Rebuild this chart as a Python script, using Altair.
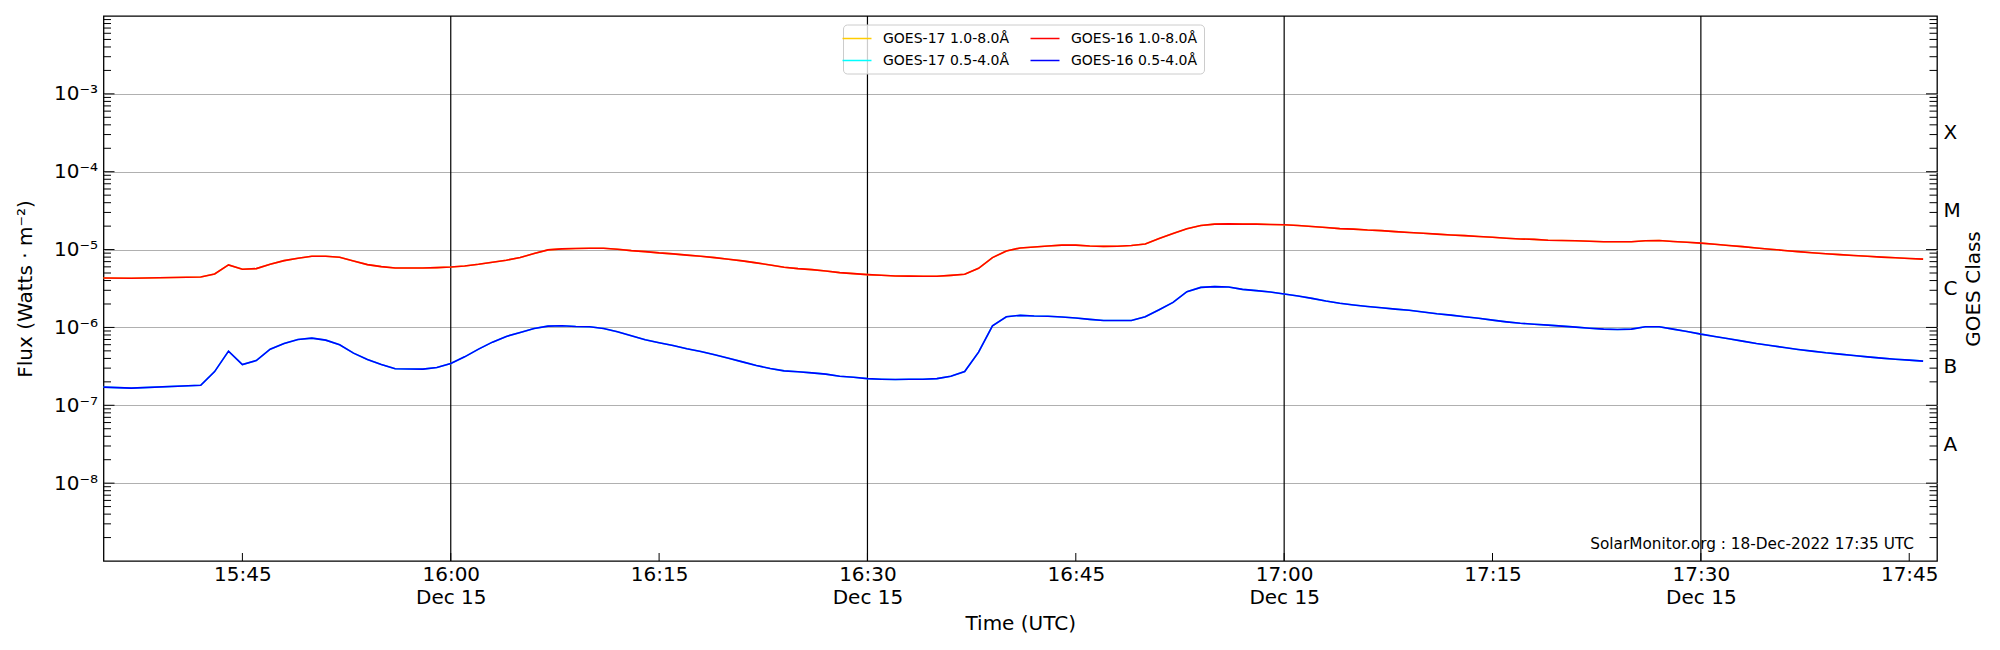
import json
import altair as alt
import pandas as pd

# ---------------- data ----------------
# minutes after 2022-12-15 15:35 UTC (1-minute cadence, gap 15:37-15:42)
minute_offsets = [0, 2] + list(range(7, 132))

goes16_long = [
    4.31e-6, 4.28e-6,
    4.45e-6, 4.86e-6, 6.35e-6, 5.58e-6, 5.69e-6, 6.47e-6, 7.21e-6, 7.73e-6, 8.20e-6, 8.20e-6,
    7.96e-6, 7.15e-6, 6.41e-6, 6.04e-6, 5.81e-6, 5.81e-6, 5.79e-6, 5.87e-6, 5.98e-6, 6.16e-6,
    6.47e-6, 6.87e-6, 7.29e-6, 7.89e-6, 8.88e-6, 9.90e-6, 1.02e-5, 1.03e-5, 1.04e-5, 1.04e-5,
    1.01e-5, 9.70e-6, 9.42e-6, 9.06e-6, 8.80e-6, 8.49e-6, 8.20e-6, 7.88e-6, 7.51e-6, 7.15e-6,
    6.74e-6, 6.35e-6, 5.93e-6, 5.69e-6, 5.52e-6, 5.31e-6, 5.06e-6, 4.91e-6, 4.77e-6, 4.67e-6,
    4.58e-6, 4.56e-6, 4.54e-6, 4.54e-6, 4.66e-6, 4.81e-6, 5.75e-6, 7.88e-6, 9.60e-6, 1.05e-5,
    1.08e-5, 1.11e-5, 1.14e-5, 1.14e-5, 1.11e-5, 1.10e-5, 1.105e-5, 1.13e-5, 1.18e-5, 1.39e-5,
    1.61e-5, 1.85e-5, 2.04e-5, 2.12e-5, 2.14e-5, 2.12e-5, 2.12e-5, 2.10e-5, 2.08e-5, 2.04e-5,
    1.98e-5, 1.92e-5, 1.86e-5, 1.83e-5, 1.78e-5, 1.75e-5, 1.70e-5, 1.66e-5, 1.62e-5, 1.58e-5,
    1.54e-5, 1.51e-5, 1.47e-5, 1.44e-5, 1.40e-5, 1.37e-5, 1.35e-5, 1.32e-5, 1.31e-5, 1.30e-5,
    1.28e-5, 1.26e-5, 1.26e-5, 1.26e-5, 1.30e-5, 1.31e-5, 1.27e-5, 1.24e-5, 1.21e-5, 1.17e-5,
    1.13e-5, 1.09e-5, 1.05e-5, 1.01e-5, 9.75e-6, 9.40e-6, 9.10e-6, 8.84e-6, 8.62e-6, 8.41e-6,
    8.20e-6, 8.00e-6, 7.85e-6, 7.69e-6, 7.54e-6,
]

goes16_short = [
    1.71e-7, 1.66e-7,
    1.81e-7, 2.71e-7, 4.96e-7, 3.34e-7, 3.76e-7, 5.26e-7, 6.22e-7, 7.00e-7, 7.29e-7, 6.87e-7,
    5.98e-7, 4.68e-7, 3.87e-7, 3.34e-7, 2.94e-7, 2.92e-7, 2.91e-7, 3.06e-7, 3.44e-7, 4.19e-7,
    5.26e-7, 6.47e-7, 7.66e-7, 8.63e-7, 9.70e-7, 1.04e-6, 1.05e-6, 1.03e-6, 1.02e-6, 9.70e-7,
    8.79e-7, 7.81e-7, 6.93e-7, 6.35e-7, 5.86e-7, 5.31e-7, 4.91e-7, 4.45e-7, 4.03e-7, 3.61e-7,
    3.24e-7, 2.97e-7, 2.77e-7, 2.69e-7, 2.61e-7, 2.51e-7, 2.36e-7, 2.29e-7, 2.20e-7, 2.16e-7,
    2.14e-7, 2.16e-7, 2.16e-7, 2.20e-7, 2.36e-7, 2.71e-7, 4.81e-7, 1.05e-6, 1.37e-6, 1.43e-6,
    1.40e-6, 1.39e-6, 1.36e-6, 1.32e-6, 1.27e-6, 1.23e-6, 1.23e-6, 1.23e-6, 1.37e-6, 1.69e-6,
    2.10e-6, 2.88e-6, 3.27e-6, 3.34e-6, 3.30e-6, 3.08e-6, 2.97e-6, 2.85e-6, 2.69e-6, 2.53e-6,
    2.36e-6, 2.18e-6, 2.04e-6, 1.94e-6, 1.86e-6, 1.79e-6, 1.72e-6, 1.66e-6, 1.58e-6, 1.50e-6,
    1.44e-6, 1.37e-6, 1.31e-6, 1.24e-6, 1.18e-6, 1.13e-6, 1.10e-6, 1.07e-6, 1.04e-6, 1.01e-6,
    9.76e-7, 9.50e-7, 9.40e-7, 9.50e-7, 1.02e-6, 1.02e-6, 9.50e-7, 8.88e-7, 8.20e-7, 7.66e-7,
    7.15e-7, 6.67e-7, 6.22e-7, 5.86e-7, 5.52e-7, 5.21e-7, 4.96e-7, 4.72e-7, 4.54e-7, 4.36e-7,
    4.19e-7, 4.03e-7, 3.91e-7, 3.80e-7, 3.69e-7,
]

# GOES-17 traces are drawn directly beneath the GOES-16 ones (indistinguishable in the picture)
goes17_long = list(goes16_long)
goes17_short = list(goes16_short)

# legend order (column-major): column 1 = GOES-17, column 2 = GOES-16
series_names = ["GOES-17 1.0-8.0Å", "GOES-17 0.5-4.0Å", "GOES-16 1.0-8.0Å", "GOES-16 0.5-4.0Å"]
series_colors = ["#ffcc00", "#00ffff", "#ff0000", "#0000ff"]

x_tick_times = ["15:45", "16:00", "16:15", "16:30", "16:45", "17:00", "17:15", "17:30", "17:45"]
date_tick_times = ["16:00", "16:30", "17:00", "17:30"]
date_label = "Dec 15"
x_domain_times = ["15:35", "17:47"]

decade_values = [1e-8, 1e-7, 1e-6, 1e-5, 1e-4, 1e-3]
decade_labels = ["10⁻⁸", "10⁻⁷", "10⁻⁶", "10⁻⁵", "10⁻⁴", "10⁻³"]
minor_values = [m * 10.0 ** k for k in range(-9, -2) for m in range(2, 10)]

class_letters = ["A", "B", "C", "M", "X"]
class_values = [10 ** -7.5, 10 ** -6.5, 10 ** -5.5, 10 ** -4.5, 10 ** -3.5]

watermark_text = "SolarMonitor.org : 18-Dec-2022 17:35 UTC"

# ---------------- build ----------------
W, H = 1833.5, 545
FONT = "DejaVu Sans"

base = pd.Timestamp("2022-12-15 15:35:00")
times = [(base + pd.Timedelta(minutes=m)).strftime("%Y-%m-%dT%H:%M:00Z") for m in minute_offsets]


def iso(hm):
    return f"2022-12-15T{hm}:00Z"


def dt(hm):
    h, m = map(int, hm.split(":"))
    return alt.DateTime(year=2022, month=12, date=15, hours=h, minutes=m, utc=True)


def frame(vals, name):
    return pd.DataFrame({"time": times, "flux": vals, "series": name})


df17 = pd.concat([frame(goes17_long, series_names[0]), frame(goes17_short, series_names[1])])
df16 = pd.concat([frame(goes16_long, series_names[2]), frame(goes16_short, series_names[3])])

xscale = alt.Scale(type="utc", domain=[dt(t) for t in x_domain_times])
yscale = alt.Scale(type="log", domain=[1e-9, 1e-2], nice=False)
cscale = alt.Scale(domain=series_names, range=series_colors)

x_label_expr = (
    f"[utcFormat(datum.value, '%H:%M'), "
    f"indexof({json.dumps(date_tick_times)}, utcFormat(datum.value, '%H:%M')) >= 0 ? '{date_label}' : '']"
)
y_label_expr = f"{json.dumps(decade_labels, ensure_ascii=False)}[round(log(datum.value)/LN10) + 8]"
r_label_expr = f"{json.dumps(class_letters)}[round(log(datum.value)/LN10 + 7.5)]"

x_axis = alt.Axis(
    values=[dt(t) for t in x_tick_times], labelExpr=x_label_expr, ticks=False, domain=False,
    grid=False, labelFontSize=20, labelFont=FONT, labelColor="black", labelPadding=3,
    labelLineHeight=23, labelBaseline="top", labelAngle=0, labelOverlap=False, labelFlush=False,
    title="Time (UTC)", titleFontSize=20, titleFont=FONT, titleFontWeight="normal",
    titleColor="black", titlePadding=6,
)
y_axis = alt.Axis(
    values=decade_values, labelExpr=y_label_expr, ticks=False, domain=False, grid=True,
    gridColor="#b0b0b0", gridWidth=1.2, labelFontSize=20, labelFont=FONT, labelColor="black",
    labelPadding=6, labelOverlap=False, labelFlush=False,
    title="Flux (Watts · m⁻²)", titleFontSize=20, titleFont=FONT, titleFontWeight="normal",
    titleColor="black", titlePadding=18,
)
r_axis = alt.Axis(
    orient="right", values=class_values, labelExpr=r_label_expr, ticks=False, domain=False,
    grid=False, labelFontSize=20, labelFont=FONT, labelColor="black", labelPadding=6,
    labelOverlap=False, labelFlush=False,
    title="GOES Class", titleFontSize=20, titleFont=FONT, titleFontWeight="normal",
    titleColor="black", titleAngle=270, titleBaseline="top", titlePadding=3,
)

legend = alt.Legend(
    title=None, orient="none", legendX=739.5, legendY=8.5, columns=2,
    symbolType="M-2,0H2", symbolSize=210, symbolStrokeWidth=1.5,
    labelFontSize=14, labelFont=FONT, labelColor="black", labelOffset=18,
    rowPadding=7, columnPadding=17, padding=6,
    strokeColor="#cccccc", fillColor="rgba(255,255,255,0.8)", cornerRadius=4,
)

lines17 = alt.Chart(df17).mark_line(strokeWidth=1.6).encode(
    x=alt.X("time:T", scale=xscale, axis=x_axis),
    y=alt.Y("flux:Q", scale=yscale, axis=y_axis),
    color=alt.Color("series:N", scale=cscale, legend=legend),
)
lines16 = alt.Chart(df16).mark_line(strokeWidth=1.6).encode(
    x=alt.X("time:T", scale=xscale, axis=x_axis),
    y=alt.Y("flux:Q", scale=yscale, axis=None),
    color=alt.Color("series:N", scale=cscale, legend=legend),
)

vlines = alt.Chart(pd.DataFrame({"time": [iso(t) for t in date_tick_times]})).mark_rule(
    color="black", strokeWidth=1.2
).encode(x=alt.X("time:T", scale=xscale, axis=x_axis))

dec_df = pd.DataFrame({"v": decade_values})
min_df = pd.DataFrame({"v": minor_values})

left_major = alt.Chart(dec_df).mark_rule(color="black", strokeWidth=1).encode(
    y=alt.Y("v:Q", scale=yscale, axis=None), x=alt.value(0), x2=alt.value(11))
left_minor = alt.Chart(min_df).mark_rule(color="black", strokeWidth=1).encode(
    y=alt.Y("v:Q", scale=yscale, axis=None), x=alt.value(0), x2=alt.value(7.5))
right_major = alt.Chart(dec_df).mark_rule(color="black", strokeWidth=1).encode(
    y=alt.Y("v:Q", scale=yscale, axis=None), x=alt.value(W - 11), x2=alt.value(W))
right_minor = alt.Chart(min_df).mark_rule(color="black", strokeWidth=1).encode(
    y=alt.Y("v:Q", scale=yscale, axis=r_axis), x=alt.value(W - 7.5), x2=alt.value(W))

xticks = alt.Chart(pd.DataFrame({"time": [iso(t) for t in x_tick_times]})).mark_rule(
    color="black", strokeWidth=1
).encode(x=alt.X("time:T", scale=xscale, axis=x_axis), y=alt.value(H - 8), y2=alt.value(H))

watermark = alt.Chart(pd.DataFrame({"label": [watermark_text]})).mark_text(
    align="right", baseline="alphabetic", fontSize=15.3, font=FONT, color="black"
).encode(x=alt.value(W - 23), y=alt.value(H - 12), text="label:N")

chart = (
    alt.layer(vlines, lines17, lines16, left_major, left_minor, right_major, right_minor,
              xticks, watermark)
    .resolve_axis(y="independent")
    .properties(
        width=W, height=H,
        padding={"left": 95.5, "top": 8, "right": 47, "bottom": 76},
        autosize=alt.AutoSizeParams(type="none"),
    )
    .configure(font=FONT)
    .configure_view(stroke="black", strokeWidth=1.3)
)

chart.save("out.html", embed_options={"renderer": "svg", "actions": False})
